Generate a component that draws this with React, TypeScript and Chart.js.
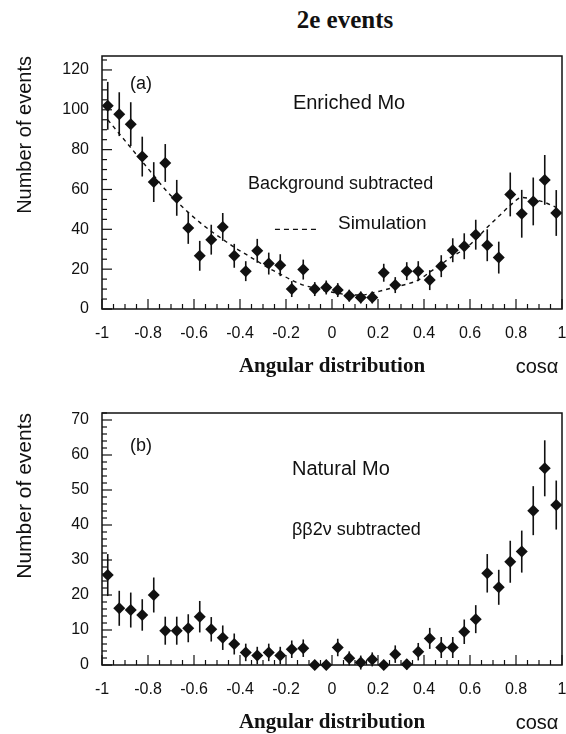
import React, { useEffect, useRef } from 'react';
import { Chart, registerables } from 'chart.js';

Chart.register(...registerables);

// ---------- data ----------
const binCenters = [
  -0.975, -0.925, -0.875, -0.825, -0.775, -0.725, -0.675, -0.625, -0.575, -0.525,
  -0.475, -0.425, -0.375, -0.325, -0.275, -0.225, -0.175, -0.125, -0.075, -0.025,
  0.025, 0.075, 0.125, 0.175, 0.225, 0.275, 0.325, 0.375, 0.425, 0.475,
  0.525, 0.575, 0.625, 0.675, 0.725, 0.775, 0.825, 0.875, 0.925, 0.975,
];

const xTickValues = [-1, -0.8, -0.6, -0.4, -0.2, 0, 0.2, 0.4, 0.6, 0.8, 1];
const enrichedYTicks = [0, 20, 40, 60, 80, 100, 120];
const naturalYTicks = [0, 10, 20, 30, 40, 50, 60, 70];

const enrichedCounts = [
  102, 97.8, 92.8, 76.5, 63.7, 73.3, 55.8, 40.7, 26.7, 34.8,
  41.2, 26.7, 19, 29.2, 22.8, 22, 10, 19.8, 10, 10.8,
  9.5, 6.7, 5.8, 5.8, 18.2, 12, 19, 19, 14.5, 21.5,
  29.5, 31.5, 37.3, 32, 25.8, 57.5, 47.8, 54, 64.8, 48.2,
];
const enrichedErrors = [
  12, 11, 11, 10, 10, 9.5, 9, 8, 7.5, 7.5,
  7, 6, 5, 6, 5.5, 5.5, 4, 5, 3.5, 3.5,
  3.5, 3, 3, 3, 4.5, 4, 4.5, 5, 5, 5.5,
  6, 6.5, 7.5, 8, 8, 11, 12, 12, 12.5, 11.5,
];
const simulationCurve = [
  95, 88, 81, 74, 67, 60, 54, 48.5, 43.5, 39,
  35, 31, 27.5, 24, 20.5, 17.5, 14.5, 12, 10.5, 9,
  8, 7, 7, 8, 9.5, 11, 12.5, 14.5, 18.5, 22.5,
  26.5, 30, 35, 41, 46.5, 52, 56, 55, 53.5, 51,
];

const naturalCounts = [
  25.7, 16.2, 15.7, 14.3, 20, 9.8, 9.8, 10.5, 13.8, 10.2,
  7.8, 6, 3.6, 2.7, 3.6, 2.7, 4.5, 4.8, 0, 0,
  5, 1.9, 0.7, 1.6, 0, 3.1, 0.2, 3.8, 7.6, 5,
  5, 9.5, 13.1, 26.2, 22.2, 29.5, 32.4, 44.1, 56.2, 45.7,
];
const naturalErrors = [
  6, 5, 5, 4.5, 5, 4, 4, 4, 4.5, 3.5,
  3.5, 3, 2.5, 2.5, 2.5, 2.5, 2.5, 2.5, 0, 0,
  2.5, 2, 2, 2, 0, 2.5, 1.5, 2.5, 3, 3,
  3, 3.5, 4, 5.5, 5, 6, 6, 7, 8, 7,
];

// ---------- styling ----------
const SANS = '"Liberation Sans", Arial, Helvetica, sans-serif';
const SERIF = '"Liberation Serif", "Times New Roman", Times, serif';
const INK = '#111111';

type Note = { text: string; x: number; y: number; size: number; align: CanvasTextAlign };

type PanelSpec = {
  counts: number[];
  errors: number[];
  sim?: number[];
  yMax: number;
  yTicks: number[];
  yMinor: number;
  padTop: number;
  xAxisHeight: number;
  yTitleSize: number;
  notes: Note[];
  legendDash?: { x0: number; x1: number; y: number };
};

function makePlugin(spec: PanelSpec) {
  return {
    id: 'panelDecor',
    beforeDatasetsDraw(chart: any) {
      const { ctx, scales } = chart;
      const xs = scales.x;
      const ys = scales.y;
      ctx.save();
      ctx.strokeStyle = INK;
      ctx.lineWidth = 1.6;
      spec.counts.forEach((v, i) => {
        const e = spec.errors[i];
        if (!e) return;
        const px = xs.getPixelForValue(binCenters[i]);
        ctx.beginPath();
        ctx.moveTo(px, ys.getPixelForValue(v - e));
        ctx.lineTo(px, ys.getPixelForValue(v + e));
        ctx.stroke();
      });
      ctx.restore();
    },
    afterDraw(chart: any) {
      const { ctx, chartArea: a, scales } = chart;
      const xs = scales.x;
      const ys = scales.y;
      ctx.save();
      ctx.strokeStyle = INK;
      // frame
      ctx.lineWidth = 1.5;
      ctx.strokeRect(a.left, a.top, a.right - a.left, a.bottom - a.top);
      // inward ticks on x axis
      ctx.lineWidth = 1.2;
      for (let k = 0; k <= 40; k++) {
        const v = -1 + k * 0.05;
        const px = xs.getPixelForValue(v);
        const len = k % 4 === 0 ? 10 : 5;
        ctx.beginPath();
        ctx.moveTo(px, a.bottom);
        ctx.lineTo(px, a.bottom - len);
        ctx.stroke();
      }
      // inward ticks on y axis
      const major = spec.yTicks[1] - spec.yTicks[0];
      for (let k = 0; k * spec.yMinor <= spec.yMax; k++) {
        const v = k * spec.yMinor;
        const py = ys.getPixelForValue(v);
        const isMajor = Math.abs(v / major - Math.round(v / major)) < 1e-6;
        const len = isMajor ? 10 : 5;
        ctx.beginPath();
        ctx.moveTo(a.left, py);
        ctx.lineTo(a.left + len, py);
        ctx.stroke();
      }
      // notes
      ctx.fillStyle = INK;
      ctx.textBaseline = 'middle';
      spec.notes.forEach((n) => {
        ctx.font = `${n.size}px ${SANS}`;
        ctx.textAlign = n.align;
        ctx.fillText(n.text, xs.getPixelForValue(n.x), ys.getPixelForValue(n.y));
      });
      // legend dash sample
      if (spec.legendDash) {
        const d = spec.legendDash;
        ctx.setLineDash([5, 4]);
        ctx.lineWidth = 1.3;
        ctx.beginPath();
        const py = ys.getPixelForValue(d.y);
        ctx.moveTo(xs.getPixelForValue(d.x0), py);
        ctx.lineTo(xs.getPixelForValue(d.x1), py);
        ctx.stroke();
        ctx.setLineDash([]);
      }
      // x axis title and variable name
      const ty = a.bottom + 58;
      ctx.font = `bold 21px ${SERIF}`;
      ctx.textAlign = 'center';
      ctx.fillText('Angular distribution', (a.left + a.right) / 2, ty);
      ctx.font = `20px ${SANS}`;
      ctx.fillText('cosα', 537, ty);
      ctx.restore();
    },
  };
}

function buildConfig(spec: PanelSpec): any {
  const datasets: any[] = [
    {
      label: 'data',
      data: spec.counts.map((v, i) => ({ x: binCenters[i], y: v })),
      pointStyle: 'rectRot',
      pointRadius: 6,
      pointBackgroundColor: INK,
      pointBorderColor: INK,
      pointBorderWidth: 0,
      showLine: false,
      clip: false,
      order: 0,
    },
  ];
  if (spec.sim) {
    datasets.push({
      label: 'Simulation',
      data: spec.sim.map((v, i) => ({ x: binCenters[i], y: v })),
      showLine: true,
      borderColor: INK,
      borderWidth: 1.4,
      borderDash: [4, 4],
      pointRadius: 0,
      tension: 0.4,
      cubicInterpolationMode: 'monotone',
      order: 1,
    });
  }
  return {
    type: 'scatter',
    data: { datasets },
    options: {
      animation: false,
      responsive: false,
      events: [],
      layout: { autoPadding: false, padding: { top: spec.padTop, right: 4, left: 0, bottom: 0 } },
      plugins: { legend: { display: false }, tooltip: { enabled: false } },
      scales: {
        x: {
          type: 'linear',
          min: -1,
          max: 1,
          grid: { display: false, drawTicks: false },
          border: { display: false },
          afterBuildTicks: (s: any) => {
            s.ticks = xTickValues.map((v) => ({ value: v }));
          },
          afterFit: (s: any) => {
            s.height = spec.xAxisHeight;
            s.paddingLeft = 0;
            s.paddingRight = 0;
          },
          ticks: {
            autoSkip: false,
            maxRotation: 0,
            padding: 15,
            color: INK,
            font: { family: SANS, size: 16 },
            callback: (v: any) => String(v),
          },
        },
        y: {
          type: 'linear',
          min: 0,
          max: spec.yMax,
          grid: { display: false, drawTicks: false },
          border: { display: false },
          afterBuildTicks: (s: any) => {
            s.ticks = spec.yTicks.map((v) => ({ value: v }));
          },
          afterFit: (s: any) => {
            s.width = 102;
            s.paddingTop = 0;
            s.paddingBottom = 0;
          },
          ticks: {
            padding: 13,
            color: INK,
            font: { family: SANS, size: 16 },
            callback: (v: any) => String(v),
          },
          title: {
            display: true,
            text: 'Number of events',
            align: 'end',
            color: INK,
            font: { family: SANS, size: spec.yTitleSize },
            padding: { top: 13, bottom: 0 },
          },
        },
      },
    },
    plugins: [makePlugin(spec)],
  };
}

const enrichedSpec: PanelSpec = {
  counts: enrichedCounts,
  errors: enrichedErrors,
  sim: simulationCurve,
  yMax: 127,
  yTicks: enrichedYTicks,
  yMinor: 5,
  padTop: 16,
  xAxisHeight: 71,
  yTitleSize: 20,
  notes: [
    { text: '(a)', x: -0.83, y: 113, size: 18, align: 'center' },
    { text: 'Enriched Mo', x: -0.17, y: 103, size: 20, align: 'left' },
    { text: 'Background subtracted', x: -0.365, y: 62.5, size: 18, align: 'left' },
    { text: 'Simulation', x: 0.026, y: 43, size: 19, align: 'left' },
  ],
  legendDash: { x0: -0.248, x1: -0.065, y: 40 },
};

const naturalSpec: PanelSpec = {
  counts: naturalCounts,
  errors: naturalErrors,
  yMax: 72,
  yTicks: naturalYTicks,
  yMinor: 2,
  padTop: 33,
  xAxisHeight: 69,
  yTitleSize: 21,
  notes: [
    { text: '(b)', x: -0.83, y: 62.6, size: 18, align: 'center' },
    { text: 'Natural Mo', x: -0.174, y: 56, size: 20, align: 'left' },
    { text: 'ββ2ν subtracted', x: -0.174, y: 38.6, size: 18, align: 'left' },
  ],
};

function Panel({ spec, top, height }: { spec: PanelSpec; top: number; height: number }) {
  const ref = useRef<HTMLCanvasElement>(null);
  useEffect(() => {
    if (!ref.current) return;
    const chart = new Chart(ref.current, buildConfig(spec));
    return () => chart.destroy();
  }, [spec]);
  return (
    <canvas
      ref={ref}
      width={566}
      height={height}
      style={{ position: 'absolute', left: 0, top, width: 566, height, display: 'block' }}
    />
  );
}

export default function App() {
  return (
    <div style={{ position: 'absolute', left: 0, top: 0, width: 566, height: 734, background: '#fff', overflow: 'hidden' }}>
      <div
        style={{
          position: 'absolute',
          left: 245,
          top: 6,
          width: 200,
          textAlign: 'center',
          fontFamily: SERIF,
          fontWeight: 'bold',
          fontSize: 25,
          lineHeight: '28px',
          color: INK,
        }}
      >
        2e events
      </div>
      <Panel spec={enrichedSpec} top={40} height={340} />
      <Panel spec={naturalSpec} top={380} height={354} />
    </div>
  );
}
